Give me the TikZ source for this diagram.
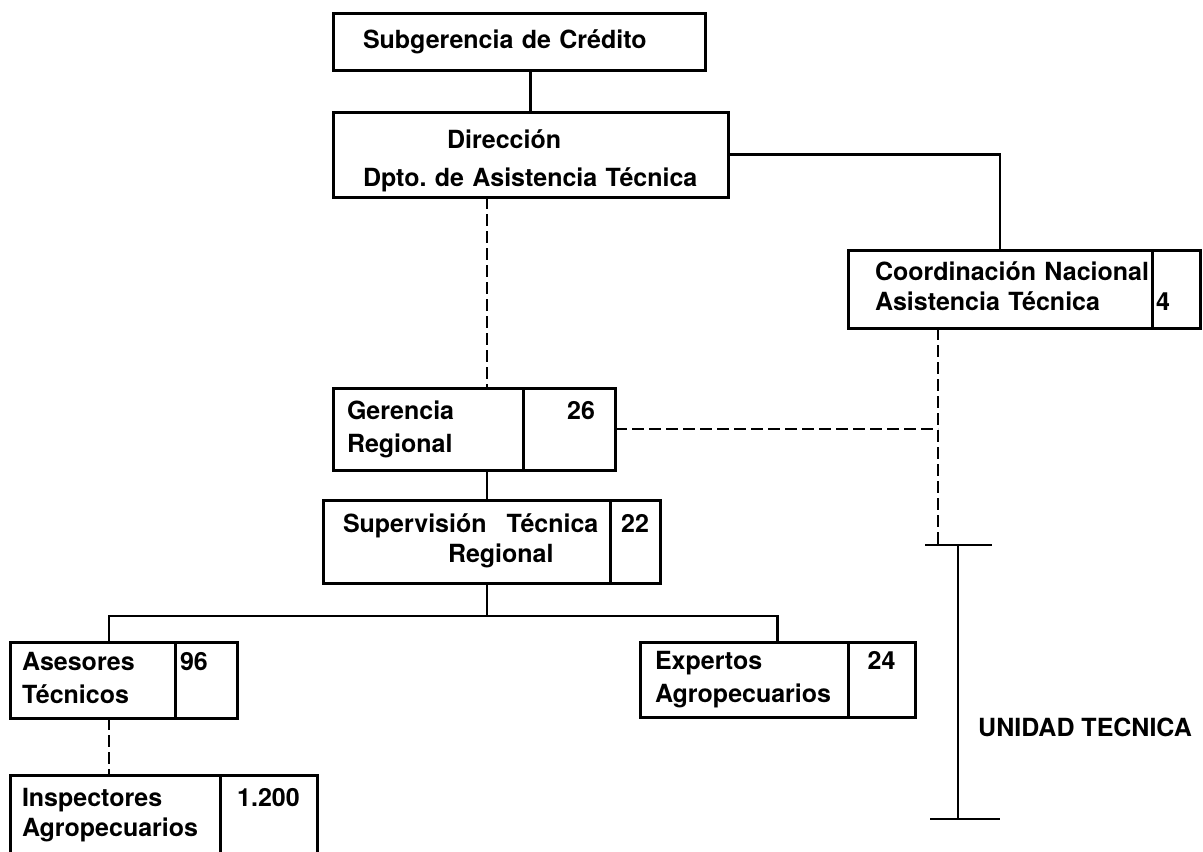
\documentclass[tikz,border=0pt]{standalone}
\usepackage{fontspec}
\setmainfont{TeX Gyre Heros}
\usetikzlibrary{positioning,calc}

\begin{document}
\begin{tikzpicture}[x=1pt,y=-1pt,font=\fontsize{25}{33}\selectfont\bfseries\frenchspacing]
\tikzstyle{unit}=[draw,line width=3pt,anchor=north west,inner sep=0pt,outer sep=0pt,align=left]
\tikzstyle{num}=[draw,line width=3pt,inner sep=0pt,outer sep=0pt,align=center]
\tikzstyle{link}=[line width=2.8pt]
\tikzstyle{weak}=[line width=2.8pt,dash pattern=on 12pt off 5pt]
\tikzstyle{tight}=[font=\fontsize{25}{30}\selectfont\bfseries]

\useasboundingbox (0,0) rectangle (1203,852);

\coordinate (spine) at (487,0);
\coordinate (fork)  at (487,616);
\coordinate (acol)  at (109,0);
\coordinate (cnx)   at (938,0);
\coordinate (utop)  at (958,545);
\coordinate (ubot)  at (958,819);

\node[unit]  (SC)  at (333,13)  [minimum width=372pt,minimum height=57pt,text width=312pt] {Subgerencia de Crédito};
\node[unit]  (DT)  at (333,112) [minimum width=395pt,minimum height=83pt,text width=335pt,font=\fontsize{25}{38}\selectfont\bfseries\frenchspacing]
  {\rule{0pt}{36pt}\hspace*{84pt}Dirección\\\strut\mbox{Dpto. de Asistencia Técnica}};
\node[unit,tight] (CN) at (848,250) [minimum width=304pt,minimum height=78pt,text width=250pt]
  {\strut\mbox{Coordinación Nacional}\\\strut\mbox{Asistencia Técnica}};
\node[num,tight]  (CNn) [right=0pt of CN,minimum width=48pt,minimum height=78pt,text width=40pt,align=left] {\strut\\\strut 4};

\node[unit]  (GR)  at (333,388) [minimum width=190pt,minimum height=82pt,text width=162pt] {\strut Gerencia\\\strut Regional};
\node[num]   (GRn) [right=0pt of GR,minimum width=92pt,minimum height=82pt,text width=52pt,align=right] {\strut 26\\\strut};

\node[unit,tight] (ST) at (323,500) [minimum width=287pt,minimum height=83pt,text width=247pt]
  {\strut\mbox{Supervisión\hspace{20pt}Técnica}\\\strut\hspace*{105pt}Regional};
\node[num,tight]  (STn) [right=0pt of ST,minimum width=50pt,minimum height=83pt] {\strut 22\\\strut};

\node[unit]  (AT)  at (10,642)  [minimum width=165pt,minimum height=76pt,text width=141pt] {\strut Asesores\\\strut Técnicos};
\node[num]   (ATn) [right=0pt of AT,minimum width=62pt,minimum height=76pt,text width=52pt,align=left] {\strut 96\\\strut};

\node[unit]  (EA)  at (640,642) [minimum width=208pt,minimum height=75pt,text width=178pt] {\strut Expertos\\\strut\mbox{Agropecuarios}};
\node[num]   (EAn) [right=0pt of EA,minimum width=67pt,minimum height=75pt] {\strut 24\\\strut};

\node[unit,tight] (IA) at (10,775) [minimum width=210pt,minimum height=80pt,text width=186pt] {\strut Inspectores\\\strut\mbox{Agropecuarios}};
\node[num,tight]  (IAn) [right=0pt of IA,minimum width=97pt,minimum height=80pt] {\strut 1.200\\\strut};

\node (UT) at (978,727) [anchor=west,inner sep=0pt] {UNIDAD TECNICA};

% solid lines of command
\draw[link] (SC.south -| DT.north) -- (DT.north);
\draw[link] (DT.east) -| (CN.north);
\draw[link] (GR.south -| spine) -- (ST.north -| spine);
\draw[link] (ST.south -| spine) -- (fork);
\draw[link] (acol |- AT.north) |- (fork) -| ($(EA.north west)!.5!(EAn.north east)$);

% dashed lines
\draw[weak] (DT.south -| spine) -- (GR.north -| spine);
\draw[weak] (GRn.east) -- (GRn.east -| cnx);
\draw[weak] (CN.south -| cnx) -- (utop -| cnx);
\draw[weak] (AT.south -| acol) -- (IA.north -| acol);

% unidad tecnica bracket
\draw[link] (utop) -- (ubot);
\draw[link] ([xshift=-33pt]utop) -- ([xshift=34pt]utop);
\draw[link] ([xshift=-28pt]ubot) -- ([xshift=42pt]ubot);
\end{tikzpicture}
\end{document}
